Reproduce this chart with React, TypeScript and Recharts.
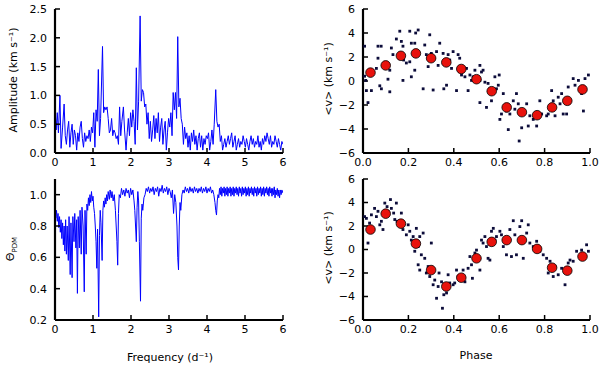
import React from 'react';
import { LineChart, Line, ScatterChart, Scatter, XAxis, YAxis } from 'recharts';

// Amplitude spectrum: [frequency (d^-1), amplitude (km/s)]
const amplitudeSpectrum: [number, number][] = [
  [0.00,0.78],[0.03,0.40],[0.06,0.70],[0.09,0.35],[0.13,1.00],[0.16,0.08],[0.20,0.45],[0.24,0.85],[0.27,0.30],[0.30,0.15],
  [0.33,0.40],[0.36,0.55],[0.39,0.10],[0.42,0.35],[0.45,0.50],[0.48,0.15],[0.51,0.40],[0.54,0.30],[0.57,0.05],[0.60,0.35],
  [0.63,0.20],[0.66,0.45],[0.69,0.55],[0.72,0.25],[0.75,0.10],[0.78,0.35],[0.81,0.20],[0.84,0.30],[0.87,0.25],[0.90,0.40],
  [0.93,0.20],[0.96,0.45],[0.99,0.35],[1.02,0.70],[1.05,0.10],[1.08,0.75],[1.11,0.55],[1.14,1.45],[1.17,0.30],[1.20,0.60],
  [1.25,1.85],[1.28,0.70],[1.31,0.80],[1.34,0.75],[1.37,0.80],[1.40,0.60],[1.43,0.35],[1.46,0.40],[1.49,0.60],[1.52,0.30],
  [1.55,0.40],[1.58,0.35],[1.61,0.25],[1.64,0.30],[1.67,0.15],[1.70,0.80],[1.73,0.30],[1.76,0.55],[1.80,0.80],[1.83,0.40],
  [1.87,0.05],[1.90,0.35],[1.93,0.60],[1.96,0.30],[1.99,0.70],[2.02,0.45],[2.05,0.75],[2.08,0.55],[2.11,0.15],[2.14,1.48],
  [2.17,0.40],[2.20,0.90],[2.24,2.38],[2.27,0.90],[2.30,1.10],[2.33,1.05],[2.36,0.80],[2.39,0.85],[2.42,0.50],[2.45,0.70],
  [2.48,0.25],[2.51,0.55],[2.54,0.20],[2.57,0.40],[2.60,0.65],[2.63,0.25],[2.66,0.60],[2.69,0.35],[2.72,0.70],[2.75,0.20],
  [2.78,0.45],[2.81,0.60],[2.84,0.15],[2.87,0.40],[2.90,0.55],[2.93,0.05],[2.96,0.35],[2.99,0.60],[3.02,0.45],[3.05,0.70],
  [3.08,0.30],[3.11,1.05],[3.14,0.75],[3.17,1.05],[3.20,0.60],[3.23,2.02],[3.26,0.80],[3.29,0.95],[3.32,0.60],[3.35,0.50],
  [3.38,0.15],[3.41,0.45],[3.44,0.25],[3.47,0.35],[3.50,0.10],[3.53,0.30],[3.56,0.05],[3.59,0.35],[3.62,0.20],[3.65,0.40],
  [3.68,0.15],[3.71,0.30],[3.74,0.05],[3.77,0.25],[3.80,0.35],[3.83,0.10],[3.86,0.30],[3.89,0.05],[3.92,0.25],[3.95,0.15],
  [3.98,0.30],[4.01,0.25],[4.04,0.35],[4.07,0.05],[4.10,0.20],[4.13,0.40],[4.16,0.15],[4.19,0.50],[4.23,1.10],[4.26,0.55],
  [4.29,0.45],[4.32,0.50],[4.35,0.20],[4.38,0.30],[4.41,0.05],[4.44,0.15],[4.47,0.25],[4.50,0.10],[4.53,0.20],[4.56,0.30],
  [4.59,0.15],[4.62,0.25],[4.65,0.35],[4.68,0.10],[4.71,0.20],[4.74,0.30],[4.77,0.05],[4.80,0.15],[4.83,0.25],[4.86,0.10],
  [4.89,0.20],[4.92,0.15],[4.95,0.30],[4.98,0.20],[5.01,0.10],[5.04,0.25],[5.07,0.15],[5.10,0.05],[5.13,0.20],[5.16,0.30],
  [5.19,0.15],[5.22,0.25],[5.25,0.10],[5.28,0.20],[5.31,0.15],[5.34,0.30],[5.37,0.10],[5.40,0.20],[5.43,0.05],[5.46,0.25],
  [5.49,0.15],[5.52,0.30],[5.55,0.20],[5.58,0.35],[5.61,0.25],[5.64,0.15],[5.67,0.30],[5.70,0.10],[5.73,0.20],[5.76,0.15],
  [5.79,0.30],[5.82,0.20],[5.85,0.10],[5.88,0.25],[5.91,0.15],[5.94,0.05],[5.97,0.20],[6.00,0.15],
];

// PDM statistic: [frequency (d^-1), theta]
const pdmSpectrum: [number, number][] = [
  [0.00,0.92],[0.02,0.85],[0.04,0.90],[0.06,0.83],[0.08,0.88],[0.10,0.79],[0.12,0.86],[0.14,0.76],[0.16,0.84],[0.18,0.72],
  [0.20,0.82],[0.22,0.68],[0.24,0.80],[0.26,0.64],[0.28,0.84],[0.30,0.62],[0.32,0.80],[0.35,0.58],[0.37,0.86],[0.40,0.49],
  [0.42,0.82],[0.45,0.47],[0.47,0.86],[0.50,0.70],[0.52,0.88],[0.55,0.66],[0.57,0.84],[0.59,0.37],[0.61,0.86],[0.64,0.66],
  [0.66,0.90],[0.69,0.62],[0.71,0.92],[0.74,0.80],[0.77,0.38],[0.79,0.90],[0.82,0.62],[0.84,0.94],[0.86,0.90],[0.88,0.98],
  [0.90,0.93],[0.92,1.00],[0.94,0.95],[0.96,1.02],[0.98,0.96],[1.00,0.99],[1.02,0.92],[1.04,0.88],[1.06,0.80],[1.08,0.70],
  [1.10,0.53],[1.12,0.78],[1.15,0.22],[1.17,0.74],[1.19,0.90],[1.21,0.82],[1.24,0.58],[1.26,0.90],[1.28,0.96],[1.30,0.92],
  [1.32,0.98],[1.34,0.94],[1.36,1.00],[1.38,0.96],[1.40,1.02],[1.43,0.97],[1.45,1.03],[1.48,0.98],[1.50,1.02],[1.53,0.96],
  [1.56,1.00],[1.59,0.90],[1.61,0.80],[1.63,0.70],[1.65,0.55],[1.67,0.88],[1.69,1.00],[1.72,0.98],[1.75,1.04],[1.78,1.00],
  [1.81,1.03],[1.84,0.99],[1.87,1.04],[1.90,1.01],[1.93,1.03],[1.96,0.98],[1.99,1.04],[2.02,1.00],[2.05,1.03],[2.08,0.96],
  [2.10,0.90],[2.12,0.80],[2.14,0.70],[2.16,0.92],[2.18,1.02],[2.20,0.96],[2.22,0.70],[2.25,0.32],[2.27,0.85],[2.29,0.94],
  [2.31,0.90],[2.34,0.98],[2.37,1.00],[2.40,1.04],[2.43,1.02],[2.46,1.05],[2.49,1.01],[2.52,1.04],[2.55,1.02],[2.58,1.05],
  [2.61,1.00],[2.64,1.04],[2.67,1.02],[2.70,1.05],[2.73,0.99],[2.76,1.04],[2.79,1.02],[2.82,1.06],[2.85,1.01],[2.88,1.04],
  [2.91,1.02],[2.94,1.05],[2.97,1.00],[3.00,1.04],[3.03,1.02],[3.06,0.98],[3.09,1.03],[3.12,0.88],[3.15,1.00],[3.18,0.95],
  [3.21,0.80],[3.23,0.60],[3.25,0.52],[3.27,0.80],[3.29,0.95],[3.31,0.90],[3.34,1.00],[3.37,1.03],[3.40,1.01],[3.43,1.05],
  [3.46,1.02],[3.49,1.04],[3.52,1.01],[3.55,1.05],[3.58,1.02],[3.61,1.04],[3.64,1.01],[3.67,1.05],[3.70,1.02],[3.73,1.04],
  [3.76,1.01],[3.79,1.04],[3.82,1.02],[3.85,1.05],[3.88,1.01],[3.91,1.04],[3.94,1.02],[3.97,1.05],[4.00,1.01],[4.03,1.04],
  [4.06,1.02],[4.09,1.05],[4.12,1.01],[4.15,1.03],[4.18,1.00],[4.21,0.95],[4.23,0.90],[4.25,0.87],[4.27,0.96],[4.29,1.00],
  [4.31,0.98],[4.33,1.04],[4.35,1.00],[4.37,1.05],[4.39,0.99],[4.41,1.04],[4.43,1.01],[4.45,1.05],[4.47,0.99],[4.49,1.04],
  [4.51,1.00],[4.53,1.05],[4.55,0.99],[4.57,1.04],[4.59,1.01],[4.61,1.05],[4.63,0.99],[4.65,1.04],[4.67,1.00],[4.69,1.05],
  [4.71,0.99],[4.73,1.04],[4.75,1.01],[4.77,1.05],[4.79,1.00],[4.81,1.04],[4.83,0.99],[4.85,1.05],[4.87,1.01],[4.89,1.04],
  [4.91,0.99],[4.93,1.05],[4.95,1.00],[4.97,1.04],[4.99,1.01],[5.01,1.05],[5.03,0.99],[5.05,1.04],[5.07,1.00],[5.09,1.05],
  [5.11,0.99],[5.13,1.04],[5.15,1.01],[5.17,1.05],[5.19,1.00],[5.21,1.04],[5.23,0.99],[5.25,1.05],[5.27,1.01],[5.29,1.04],
  [5.31,0.99],[5.33,1.05],[5.35,1.00],[5.37,1.04],[5.39,1.01],[5.41,1.05],[5.43,0.99],[5.45,1.04],[5.47,1.00],[5.49,1.05],
  [5.51,0.99],[5.53,1.04],[5.55,1.01],[5.57,1.05],[5.59,1.00],[5.61,1.04],[5.63,0.99],[5.65,1.05],[5.67,1.01],[5.69,1.04],
  [5.71,0.99],[5.73,1.04],[5.75,1.00],[5.77,1.05],[5.79,0.98],[5.81,1.03],[5.83,1.00],[5.85,1.04],[5.87,0.99],[5.89,1.03],
  [5.91,0.98],[5.93,1.03],[5.95,1.00],[5.97,1.03],[6.00,1.01],
];

// Phase-folded velocities, top: [phase, <v>]
const topObs: [number, number][] = [
  [0.007,2.9],[0.007,0.4],[0.015,-0.8],[0.022,-1.8],[0.012,0.05],[0.037,-0.8],[0.066,2.9],[0.08,2.9],[0.066,1.9],[0.059,1.05],
  [0.074,-0.4],[0.081,-0.65],[0.11,0.15],[0.118,-0.9],[0.118,0.9],[0.125,2.75],[0.132,2.2],[0.147,3.5],[0.162,4.15],[0.169,3.3],
  [0.176,2.9],[0.179,1.75],[0.191,1.5],[0.176,0.05],[0.206,4.15],[0.213,3.15],[0.206,1.6],[0.228,3.15],[0.232,4.0],[0.243,4.25],
  [0.228,0.9],[0.213,0.35],[0.265,-0.65],[0.272,3.0],[0.294,3.85],[0.279,2.2],[0.287,1.2],[0.309,-0.75],[0.301,2.3],[0.324,2.45],
  [0.338,3.15],[0.331,1.3],[0.353,2.3],[0.356,-0.65],[0.368,-0.35],[0.375,2.2],[0.382,1.75],[0.397,2.45],[0.39,1.05],[0.412,-0.8],
  [0.419,2.2],[0.426,1.9],[0.441,1.05],[0.434,0.5],[0.456,1.05],[0.449,0.35],[0.463,-0.8],[0.478,0.05],[0.471,0.5],[0.485,0.35],
  [0.493,0.9],[0.515,1.3],[0.522,0.75],[0.515,0.05],[0.515,-1.8],[0.529,0.9],[0.537,-0.1],[0.544,-2.2],[0.551,-0.2],[0.559,-0.65],
  [0.566,-1.65],[0.581,0.35],[0.588,-0.65],[0.596,-0.35],[0.6,0.5],[0.603,-3.2],[0.61,-2.75],[0.618,-1.05],[0.632,-2.5],[0.64,-4.05],
  [0.647,-2.75],[0.662,-1.65],[0.669,-2.35],[0.676,-1.05],[0.684,-1.9],[0.688,-5.0],[0.699,-3.9],[0.706,-2.6],[0.721,-1.9],[0.728,-3.75],
  [0.735,-2.9],[0.75,-3.2],[0.765,-3.75],[0.779,-1.65],[0.787,-2.75],[0.809,-2.9],[0.816,-2.75],[0.831,-0.8],[0.838,-1.65],[0.846,-2.9],
  [0.86,-1.35],[0.868,-1.9],[0.882,-2.75],[0.875,-1.05],[0.897,-2.75],[0.904,-0.5],[0.912,-1.65],[0.926,0.2],[0.934,-0.35],[0.949,0.05],
  [0.963,-1.05],[0.971,-2.5],[0.978,0.2],[0.993,0.5],
];
const topMean: [number, number][] = [
  [0.033,0.7],[0.1,1.3],[0.167,2.1],[0.233,2.3],[0.3,1.9],[0.367,1.55],[0.433,1.0],[0.5,0.15],
  [0.567,-0.85],[0.633,-2.2],[0.7,-2.6],[0.767,-2.85],[0.833,-2.2],[0.9,-1.65],[0.967,-0.7],
];

// Phase-folded velocities, bottom: [phase, <v>]
const bottomObs: [number, number][] = [
  [0.007,2.8],[0.015,2.65],[0.022,0.55],[0.029,2.25],[0.037,2.95],[0.051,3.5],[0.059,2.8],[0.066,3.25],[0.074,2.1],[0.081,2.4],
  [0.088,1.7],[0.096,3.95],[0.106,3.65],[0.11,3.25],[0.121,4.25],[0.125,3.5],[0.135,3.1],[0.14,2.55],[0.147,3.95],[0.15,2.4],
  [0.162,2.25],[0.169,3.1],[0.176,1.7],[0.191,1.25],[0.199,2.1],[0.206,1.55],[0.213,0.8],[0.221,1.1],[0.228,-0.15],[0.235,1.8],
  [0.243,0.25],[0.25,1.1],[0.257,-0.45],[0.265,1.4],[0.243,-1.3],[0.25,-1.75],[0.272,-0.75],[0.279,-2.0],[0.287,-1.45],[0.294,-2.3],
  [0.301,0.55],[0.309,-3.0],[0.316,-2.6],[0.324,-4.15],[0.331,-3.15],[0.335,-2.0],[0.346,-2.75],[0.35,-5.0],[0.356,-3.85],[0.368,-3.7],
  [0.375,-2.15],[0.382,-2.85],[0.397,-3.0],[0.404,-2.85],[0.412,-1.75],[0.419,-2.3],[0.426,-2.45],[0.441,-1.75],[0.449,-2.75],[0.463,-1.6],
  [0.471,-0.6],[0.478,-1.3],[0.482,-2.45],[0.493,-0.3],[0.5,-0.05],[0.515,-1.75],[0.522,0.8],[0.529,0.55],[0.537,1.1],[0.544,0.25],
  [0.551,-0.75],[0.559,-0.9],[0.566,1.55],[0.574,1.8],[0.581,0.8],[0.588,1.1],[0.603,1.55],[0.61,1.25],[0.618,0.25],[0.632,-0.45],
  [0.647,1.7],[0.654,-0.6],[0.662,2.45],[0.669,1.25],[0.676,-0.45],[0.691,1.95],[0.699,2.45],[0.706,-0.75],[0.721,1.4],[0.728,2.1],
  [0.735,0.55],[0.75,0.25],[0.765,0.7],[0.779,-0.15],[0.794,-0.45],[0.809,-0.75],[0.816,-2.0],[0.824,-1.0],[0.838,-2.3],[0.846,-1.45],
  [0.86,-2.15],[0.875,-1.6],[0.89,-3.0],[0.904,-1.15],[0.912,-0.9],[0.926,-1.0],[0.941,-0.15],[0.963,-0.05],[0.985,0.4],[0.993,-0.15],
];
const bottomMean: [number, number][] = [
  [0.033,1.7],[0.1,3.05],[0.167,2.2],[0.233,0.5],[0.3,-1.75],[0.367,-3.15],[0.433,-2.4],[0.5,-0.75],
  [0.567,0.65],[0.633,0.8],[0.7,0.8],[0.767,0.05],[0.833,-1.55],[0.9,-1.8],[0.967,-0.6],
];

const freqTicks = [0, 1, 2, 3, 4, 5, 6];
const ampTicks = [0, 0.5, 1.0, 1.5, 2.0, 2.5];
const pdmTicks = [0.2, 0.4, 0.6, 0.8, 1.0];
const phaseTicks = [0, 0.2, 0.4, 0.6, 0.8, 1.0];
const velTicks = [-6, -4, -2, 0, 2, 4, 6];

const FONT = 'DejaVu Sans, sans-serif';
const tickStyle = { fontSize: 11, fill: '#000', fontFamily: FONT };
const axisLineStyle = { stroke: '#000', strokeWidth: 2.2 };
const tickLineStyle = { stroke: '#000', strokeWidth: 1.5 };

const toPts = (arr: [number, number][]) => arr.map(([x, y]) => ({ x, y }));
const fmt1 = (v: number) => v.toFixed(1);
const fmtInt = (v: number) => (v < 0 ? '\u2212' + Math.abs(v) : String(v));

const SmallDot = (props: any) => (
  <rect x={props.cx - 1.4} y={props.cy - 1.4} width={2.8} height={2.8} fill="#0c0c3a" />
);
const BigDot = (props: any) => (
  <circle cx={props.cx} cy={props.cy} r={4.8} fill="#e8120c" stroke="#000" strokeWidth={0.8} />
);

function frameAxes(xDomain: number[], xTicks: number[], xFmt: (v: number) => string, xHeight: number,
                   yDomain: number[], yTicks: number[], yFmt: (v: number) => string, yWidth: number) {
  return [
    <XAxis key="xb" xAxisId="b" type="number" dataKey="x" domain={xDomain} ticks={xTicks} tickFormatter={xFmt}
      allowDataOverflow height={xHeight} tickSize={-5} tickMargin={10} axisLine={axisLineStyle}
      tickLine={tickLineStyle} tick={tickStyle} interval={0} />,
    <XAxis key="xt" xAxisId="t" orientation="top" type="number" dataKey="x" domain={xDomain} ticks={xTicks}
      allowDataOverflow height={0} tickSize={-5} axisLine={axisLineStyle} tickLine={tickLineStyle} tick={false} />,
    <YAxis key="yl" yAxisId="l" type="number" domain={yDomain} ticks={yTicks} tickFormatter={yFmt}
      allowDataOverflow width={yWidth} tickSize={-5} tickMargin={13} axisLine={axisLineStyle}
      tickLine={tickLineStyle} tick={tickStyle} interval={0} />,
    <YAxis key="yr" yAxisId="r" orientation="right" type="number" domain={yDomain} ticks={yTicks}
      allowDataOverflow width={0} tickSize={-5} axisLine={axisLineStyle} tickLine={tickLineStyle} tick={false} />,
  ];
}

const RotLabel = ({ cx, cy, children }: { cx: number; cy: number; children: React.ReactNode }) => (
  <div style={{ position: 'absolute', left: cx, top: cy, transform: 'translate(-50%, -50%) rotate(-90deg)',
    whiteSpace: 'nowrap', fontSize: 11, fontFamily: FONT, color: '#000', lineHeight: '13px' }}>{children}</div>
);
const HLabel = ({ cx, cy, children }: { cx: number; cy: number; children: React.ReactNode }) => (
  <div style={{ position: 'absolute', left: cx, top: cy, transform: 'translate(-50%, -50%)',
    whiteSpace: 'nowrap', fontSize: 11, fontFamily: FONT, color: '#000', lineHeight: '13px' }}>{children}</div>
);

export default function App() {
  const ampData = toPts(amplitudeSpectrum);
  const pdmData = toPts(pdmSpectrum);
  return (
    <div style={{ position: 'absolute', left: 0, top: 0, width: 600, height: 367, background: '#fff', overflow: 'hidden' }}>
      <div style={{ position: 'absolute', left: 0, top: 0 }}>
        <LineChart width={300} height={180} data={ampData} margin={{ top: 9, right: 17, bottom: 0, left: 0 }}>
          {frameAxes([0, 6], freqTicks, (v) => String(v), 27, [0, 2.5], ampTicks, fmt1, 55)}
          <Line xAxisId="b" yAxisId="l" dataKey="y" type="linear" stroke="#0000ff" strokeWidth={1} dot={false}
            isAnimationActive={false} />
        </LineChart>
      </div>
      <div style={{ position: 'absolute', left: 0, top: 170 }}>
        <LineChart width={300} height={197} data={pdmData} margin={{ top: 9, right: 17, bottom: 0, left: 0 }}>
          {frameAxes([0, 6], freqTicks, (v) => String(v), 47, [0.2, 1.1], pdmTicks, fmt1, 55)}
          <Line xAxisId="b" yAxisId="l" dataKey="y" type="linear" stroke="#0000ff" strokeWidth={1} dot={false}
            isAnimationActive={false} />
        </LineChart>
      </div>
      <div style={{ position: 'absolute', left: 300, top: 0 }}>
        <ScatterChart width={300} height={180} margin={{ top: 9, right: 10, bottom: 0, left: 0 }}>
          {frameAxes([0, 1], phaseTicks, fmt1, 27, [-6, 6], velTicks, fmtInt, 63)}
          <Scatter xAxisId="b" yAxisId="l" data={toPts(topObs)} dataKey="y" shape={SmallDot} isAnimationActive={false} />
          <Scatter xAxisId="b" yAxisId="l" data={toPts(topMean)} dataKey="y" shape={BigDot} isAnimationActive={false} />
        </ScatterChart>
      </div>
      <div style={{ position: 'absolute', left: 300, top: 170 }}>
        <ScatterChart width={300} height={197} margin={{ top: 9, right: 10, bottom: 0, left: 0 }}>
          {frameAxes([0, 1], phaseTicks, fmt1, 47, [-6, 6], velTicks, fmtInt, 63)}
          <Scatter xAxisId="b" yAxisId="l" data={toPts(bottomObs)} dataKey="y" shape={SmallDot} isAnimationActive={false} />
          <Scatter xAxisId="b" yAxisId="l" data={toPts(bottomMean)} dataKey="y" shape={BigDot} isAnimationActive={false} />
        </ScatterChart>
      </div>
      <RotLabel cx={13} cy={80}>Amplitude (km s⁻¹)</RotLabel>
      <RotLabel cx={13} cy={249}>
        <span>Θ<sub style={{ fontSize: 7 }}>PDM</sub></span>
      </RotLabel>
      <RotLabel cx={328} cy={79}>&lt;v&gt; (km s⁻¹)</RotLabel>
      <RotLabel cx={328} cy={248}>&lt;v&gt; (km s⁻¹)</RotLabel>
      <HLabel cx={170} cy={357}>Frequency (d⁻¹)</HLabel>
      <HLabel cx={476} cy={355}>Phase</HLabel>
    </div>
  );
}
